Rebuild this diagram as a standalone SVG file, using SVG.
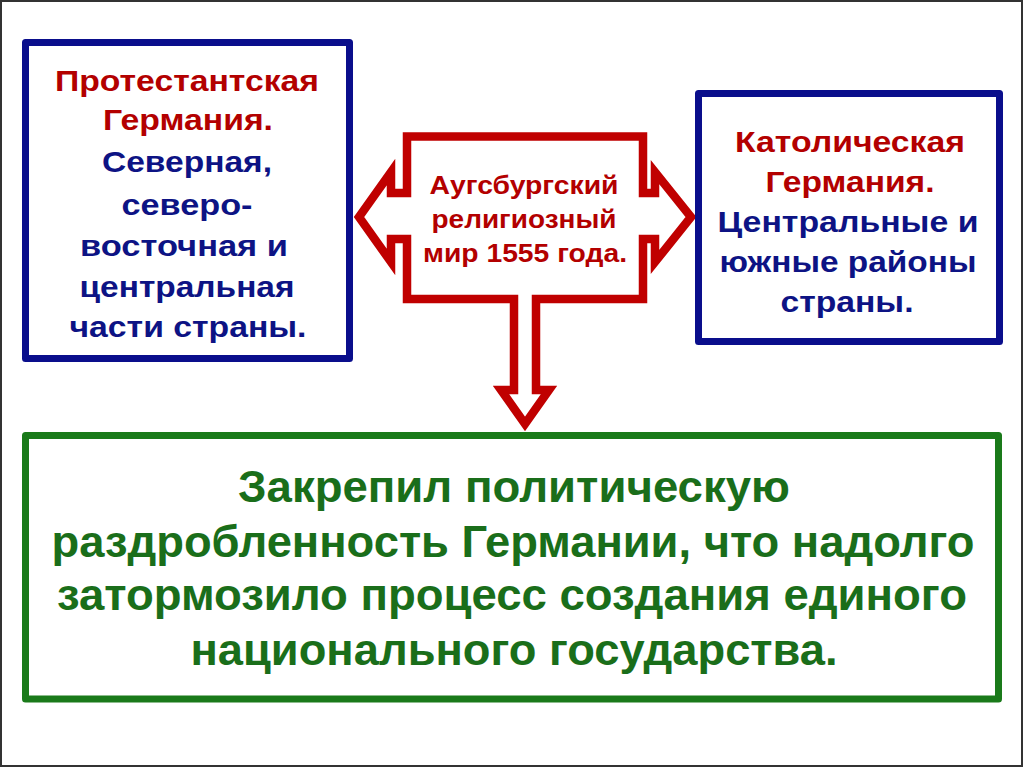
<svg xmlns="http://www.w3.org/2000/svg" width="1024" height="768" viewBox="0 0 1024 768">
<style>
.t{font-family:"Liberation Sans",Arial,sans-serif;font-weight:bold;text-anchor:middle}
.red{fill:#B30000}
.blue{fill:#0D1384}
.grn{font-family:"Liberation Sans Narrow","Liberation Sans",Arial,sans-serif;font-weight:bold;text-anchor:middle;fill:#1A6E1A;font-size:44px}
.bbox{fill:#fff;stroke:#0A0E8C;stroke-width:7;stroke-linejoin:round}
.gbox{fill:#fff;stroke:#1A7A1A;stroke-width:7;stroke-linejoin:round}
.rshape{fill:#fff;stroke:#C00000;stroke-width:8.5;stroke-linejoin:miter;stroke-miterlimit:10}
</style>
<rect x="0" y="0" width="1024" height="768" fill="#fff"/>
<rect x="1" y="1" width="1021" height="765" fill="none" stroke="#333" stroke-width="2"/>

<g id="connectors">
<path class="rshape" d="M407,136.5 H643 V193 H655 V172 L691,217 L655,262 V239 H643 V299 H536 V390 H549 L525,424 L501,390 H514 V299 H407 V239 H391 V262 L359,217 L391,172 V193 H407 Z"/>
</g>

<g id="node-protestant">
<rect class="bbox" x="25.5" y="42.5" width="324" height="316"/>
<text class="t red" font-size="30" x="187" y="91" textLength="264" lengthAdjust="spacingAndGlyphs">Протестантская</text>
<text class="t red" font-size="30" x="188" y="130" textLength="170" lengthAdjust="spacingAndGlyphs">Германия.</text>
<text class="t blue" font-size="30" x="187" y="172" textLength="170" lengthAdjust="spacingAndGlyphs">Северная,</text>
<text class="t blue" font-size="30" x="187" y="215" textLength="131" lengthAdjust="spacingAndGlyphs">северо-</text>
<text class="t blue" font-size="30" x="184" y="256" textLength="208" lengthAdjust="spacingAndGlyphs">восточная и</text>
<text class="t blue" font-size="30" x="187" y="297" textLength="215" lengthAdjust="spacingAndGlyphs">центральная</text>
<text class="t blue" font-size="30" x="188" y="337" textLength="237" lengthAdjust="spacingAndGlyphs">части страны.</text>
</g>

<g id="node-augsburg">
<text class="t red" font-size="26" x="524" y="194" textLength="189" lengthAdjust="spacingAndGlyphs">Аугсбургский</text>
<text class="t red" font-size="26" x="524" y="228" textLength="185" lengthAdjust="spacingAndGlyphs">религиозный</text>
<text class="t red" font-size="26" x="525" y="262" textLength="204" lengthAdjust="spacingAndGlyphs">мир 1555 года.</text>
</g>

<g id="node-catholic">
<rect class="bbox" x="698.5" y="93.5" width="301" height="248"/>
<text class="t red" font-size="30" x="850" y="152" textLength="230" lengthAdjust="spacingAndGlyphs">Католическая</text>
<text class="t red" font-size="30" x="850" y="192" textLength="169" lengthAdjust="spacingAndGlyphs">Германия.</text>
<text class="t blue" font-size="30" x="848" y="232" textLength="261" lengthAdjust="spacingAndGlyphs">Центральные и</text>
<text class="t blue" font-size="30" x="848" y="272" textLength="257" lengthAdjust="spacingAndGlyphs">южные районы</text>
<text class="t blue" font-size="30" x="847" y="312" textLength="133" lengthAdjust="spacingAndGlyphs">страны.</text>
</g>

<g id="node-result">
<rect class="gbox" x="25.5" y="435.5" width="973" height="263.5"/>
<text class="grn" x="514" y="502" textLength="552" lengthAdjust="spacingAndGlyphs">Закрепил политическую</text>
<text class="grn" x="513" y="557" textLength="923" lengthAdjust="spacingAndGlyphs">раздробленность Германии, что надолго</text>
<text class="grn" x="512" y="610" textLength="910" lengthAdjust="spacingAndGlyphs">затормозило процесс создания единого</text>
<text class="grn" x="514" y="665" textLength="647" lengthAdjust="spacingAndGlyphs">национального государства.</text>
</g>
</svg>
